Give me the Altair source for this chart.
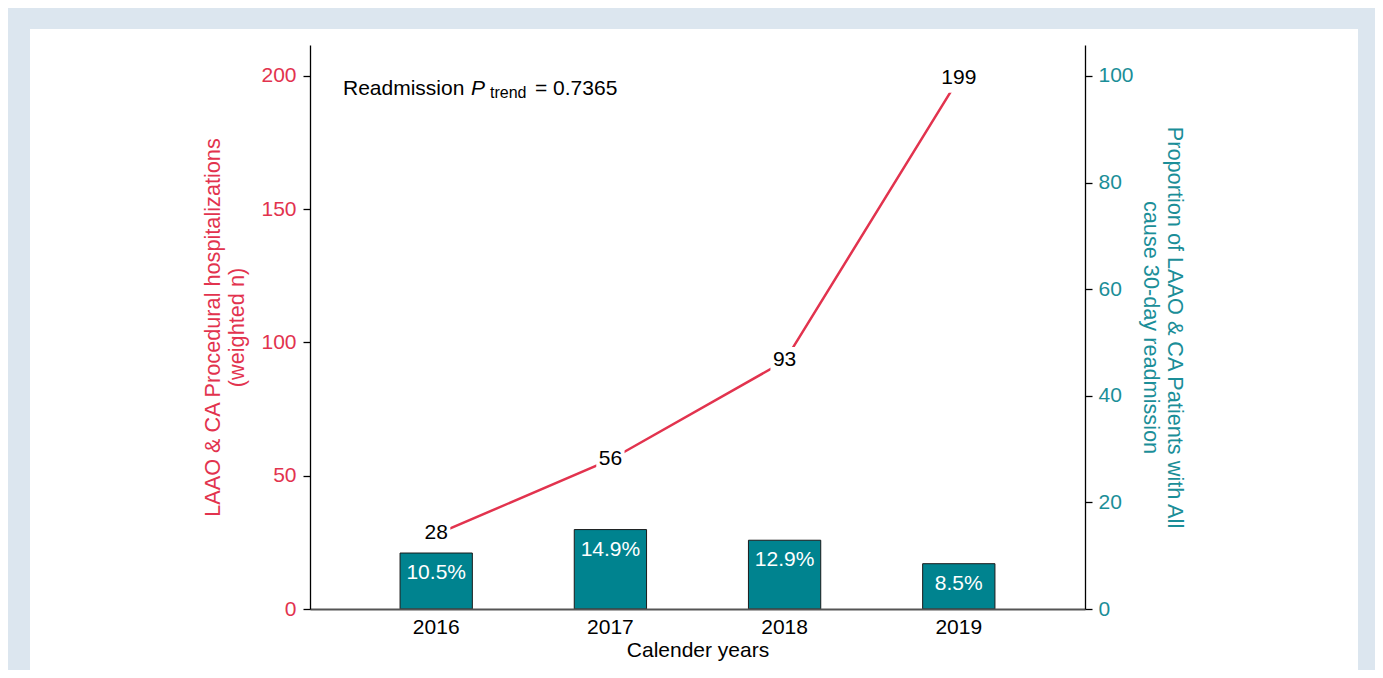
import altair as alt
import pandas as pd

years = ["2016", "2017", "2018", "2019"]
hosp_n = [28, 56, 93, 199]
readm_pct = [10.5, 14.9, 12.9, 8.5]
readm_labels = ["10.5%", "14.9%", "12.9%", "8.5%"]
left_ticks = [0, 50, 100, 150, 200]
right_ticks = [0, 20, 40, 60, 80, 100]

df = pd.DataFrame({"year": years, "n": hosp_n, "pct": readm_pct,
                   "pct_label": readm_labels, "n_label": [str(v) for v in hosp_n]})

FONT = "Liberation Sans"
RED = "#E2334E"
TEAL = "#00838F"
TEAL_TXT = "#1B8E98"
FS = 21
TFS = 21.7

xenc = alt.X("year:O",
             scale=alt.Scale(paddingInner=0.585, paddingOuter=0.517),
             axis=alt.Axis(title="Calender years", labelAngle=0, ticks=False, tickSize=0,
                           labelPadding=7, labelFontSize=FS, labelFont=FONT, labelColor="black",
                           titleFont=FONT, titleFontSize=FS, titleFontWeight="normal",
                           titleColor="black", titlePadding=2, domainColor="#555555",
                           domainWidth=2, zindex=2))

# decorative white panel
panel = alt.Chart(pd.DataFrame({"k": [0]})).mark_rect(color="white", clip=False).encode(
    x=alt.value(-280), x2=alt.value(1048), y=alt.value(-16), y2=alt.value(640)
)

yright = alt.Y("pct:Q", scale=alt.Scale(domain=[0, 105.8], nice=False, zero=True),
               axis=alt.Axis(orient="right", values=right_ticks, title=[
                   "Proportion of LAAO & CA Patients with All", "cause 30-day readmission"],
                   grid=False, domainColor="black", domainWidth=1.3, tickColor="black",
                   tickWidth=1.3, tickSize=7, labelPadding=6, labelFontSize=FS, labelFont=FONT,
                   labelColor=TEAL_TXT, titleFont=FONT, titleFontSize=TFS,
                   titleFontWeight="normal", titleColor=TEAL_TXT, titlePadding=5,
                   titleLineHeight=24, zindex=2))

bars = alt.Chart(df).mark_bar(fill=TEAL, stroke="#1a1a1a", strokeWidth=1).encode(
    x=xenc, y=yright)
bar_text = alt.Chart(df).mark_text(color="white", baseline="top", dy=9, fontSize=FS,
                                   font=FONT).encode(
    x=alt.X("year:O"), y=alt.Y("pct:Q"), text="pct_label:N")
right_layer = alt.layer(bars, bar_text)

yleft = alt.Y("n:Q", scale=alt.Scale(domain=[0, 211.6], nice=False, zero=True),
              axis=alt.Axis(orient="left", values=left_ticks, title=[
                  "LAAO & CA Procedural hospitalizations", "(weighted n)"],
                  grid=False, domainColor="black", domainWidth=1.3, tickColor="black",
                  tickWidth=1.3, tickSize=7, labelPadding=7, labelFontSize=FS, labelFont=FONT,
                  labelColor=RED, titleFont=FONT, titleFontSize=TFS,
                  titleFontWeight="normal", titleColor=RED, titlePadding=12,
                  titleLineHeight=24, zindex=2))

line = alt.Chart(df).mark_line(color=RED, strokeWidth=2.5).encode(x=alt.X("year:O"), y=yleft)
boxes = alt.Chart(df).mark_point(shape="square", filled=True, color="white", opacity=1,
                                 size=800, strokeWidth=0).encode(
    x=alt.X("year:O"), y=alt.Y("n:Q"))
line_text = alt.Chart(df).mark_text(color="black", baseline="middle", dy=-1, fontSize=FS,
                                    font=FONT).encode(
    x=alt.X("year:O"), y=alt.Y("n:Q"), text="n_label:N")
left_layer = alt.layer(line, boxes, line_text)

ann_df = pd.DataFrame({"k": [0]})
ann1 = alt.Chart(ann_df).mark_text(text="Readmission", align="left", baseline="alphabetic",
                                   fontSize=FS, font=FONT, color="black").encode(
    x=alt.value(33), y=alt.value(50))
ann2 = alt.Chart(ann_df).mark_text(text="P", align="left", baseline="alphabetic",
                                   fontSize=FS, font=FONT, fontStyle="italic",
                                   color="black").encode(x=alt.value(161), y=alt.value(50))
ann3 = alt.Chart(ann_df).mark_text(text="trend", align="left", baseline="alphabetic",
                                   fontSize=16, font=FONT, color="black").encode(
    x=alt.value(180), y=alt.value(53))
ann4 = alt.Chart(ann_df).mark_text(text="= 0.7365", align="left", baseline="alphabetic",
                                   fontSize=FS, font=FONT, color="black").encode(
    x=alt.value(225), y=alt.value(50))

chart = alt.layer(panel, right_layer, left_layer, ann1, ann2, ann3, ann4).resolve_scale(
    y="independent"
).properties(
    width=775, height=564,
    autosize=alt.AutoSizeParams(type="none"),
    padding={"left": 302, "top": 37, "right": 290, "bottom": 61},
    background="#DCE6EF",
).configure_view(stroke=None)

chart.save("out.html", embed_options={"renderer": "svg", "actions": False})
